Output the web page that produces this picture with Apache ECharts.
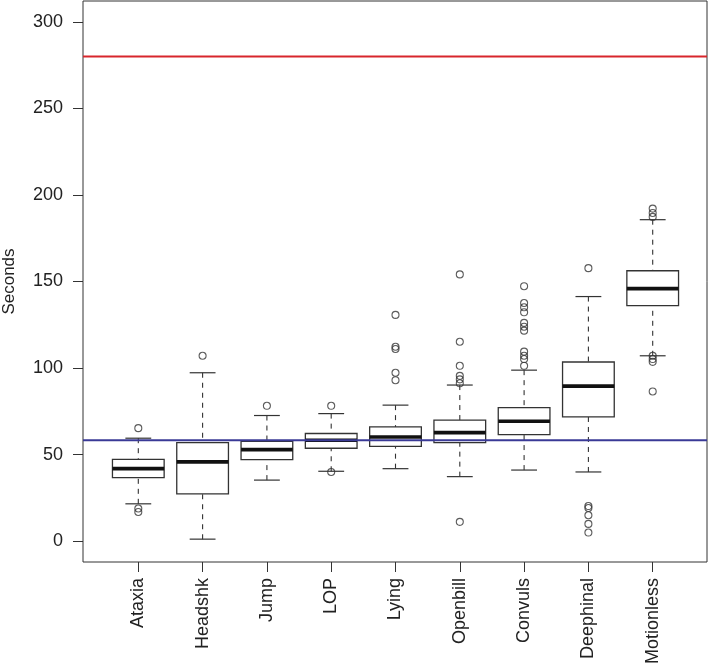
<!DOCTYPE html>
<html>
<head>
<meta charset="utf-8">
<script src="https://cdn.jsdelivr.net/npm/echarts@6/dist/echarts.min.js"></script>
<style>
  html, body { margin: 0; padding: 0; background: #fff; }
  #chart { width: 709px; height: 665px; }
</style>
</head>
<body>
<div id="chart"></div>
<script>
// ---- data ----
const categories = ['Ataxia', 'Headshk', 'Jump', 'LOP', 'Lying', 'Openbill', 'Convuls', 'Deephinal', 'Motionless'];
const whiskerLow  = [21.6, 1.2, 35.3, 40.4, 41.9, 37.3, 41.1, 40.0, 107.1];
const q1          = [36.7, 27.4, 47.1, 53.7, 54.8, 56.9, 61.6, 71.8, 136.1];
const median      = [41.9, 45.8, 52.9, 58.3, 60.2, 62.7, 69.3, 89.6, 145.9];
const q3          = [47.3, 56.9, 57.7, 62.2, 66.0, 69.9, 77.2, 103.5, 156.2];
const whiskerHigh = [59.5, 97.3, 72.6, 73.7, 78.6, 90.2, 98.8, 141.3, 185.7];
const outliers = [
  [65.3, 18.9, 16.9],
  [107.1],
  [78.2],
  [78.2, 40.0],
  [130.7, 112.3, 111.0, 97.3, 93.0],
  [154.1, 115.2, 101.3, 95.5, 93.5, 91.2, 11.2],
  [147.3, 137.6, 135.1, 132.2, 126.1, 123.9, 121.6, 109.5, 107.1, 105.2, 101.3],
  [157.7, 20.3, 19.2, 15.0, 10.0, 5.0],
  [192.1, 189.6, 187.3, 107.1, 105.2, 103.6, 86.5]
];
const refValues = [280, 58.3];
const yTicks = [0, 50, 100, 150, 200, 250, 300];
const yMin = -12, yMax = 312;

// ---- styles ----
const refColors = ['#d8262c', '#3a3a96'];
const ink = '#333';
const FONT = '"Liberation Sans", Arial, Helvetica, sans-serif';

const boxData = categories.map((c, i) => [i, whiskerLow[i], q1[i], median[i], q3[i], whiskerHigh[i]]);
const outlierData = [];
outliers.forEach((arr, i) => arr.forEach(v => outlierData.push([i, v])));
const refData = refValues.map((v, i) => [i, v]);

const chart = echarts.init(document.getElementById('chart'), null, { renderer: 'canvas' });

chart.setOption({
  animation: false,
  backgroundColor: '#fff',
  textStyle: { fontFamily: FONT },
  grid: [
    { left: 83, top: 1, width: 624, height: 561, show: true, borderColor: ink, borderWidth: 1, backgroundColor: 'transparent', containLabel: false, outerBoundsMode: 'none' },
    { left: 106.15, top: 1, width: 578.7, height: 561, show: false, containLabel: false, outerBoundsMode: 'none' }
  ],
  xAxis: [
    { gridIndex: 0, type: 'value', min: 0, max: 1, show: false },
    {
      gridIndex: 1, type: 'category', data: categories, position: 'bottom',
      axisLine: { show: false, onZero: false },
      axisTick: { show: true, alignWithLabel: true, length: 10, lineStyle: { color: ink, width: 1 } },
      axisLabel: { rotate: 90, fontSize: 18, margin: 16, color: '#222', fontFamily: FONT, interval: 0 },
      splitLine: { show: false }
    }
  ],
  yAxis: [
    {
      gridIndex: 0, type: 'value', min: yMin, max: yMax,
      name: 'Seconds', nameLocation: 'middle', nameGap: 65,
      nameTextStyle: { fontSize: 17, color: '#222', fontFamily: FONT },
      axisLine: { show: false, onZero: false },
      axisTick: { show: true, length: 10, lineStyle: { color: ink, width: 1 }, customValues: yTicks },
      axisLabel: { fontSize: 18, margin: 20, color: '#222', fontFamily: FONT, customValues: yTicks },
      splitLine: { show: false }
    },
    { gridIndex: 1, type: 'value', min: yMin, max: yMax, show: false }
  ],
  series: [
    {
      type: 'custom',
      xAxisIndex: 1, yAxisIndex: 1,
      z: 2,
      data: boxData,
      encode: { x: 0, y: [1, 2, 3, 4, 5] },
      renderItem: function (params, api) {
        const i = api.value(0);
        const cx = api.coord([i, 0])[0];
        const band = api.size([1, 0])[0];
        const bw = band * 0.804;
        const y = k => api.coord([i, api.value(k)])[1];
        const yLo = y(1), yQ1 = y(2), yMed = y(3), yQ3 = y(4), yHi = y(5);
        const thin = { stroke: ink, lineWidth: 1.2, fill: null };
        const dash = { stroke: ink, lineWidth: 1.1, lineDash: [5, 5], fill: null };
        return {
          type: 'group',
          children: [
            { type: 'line', shape: { x1: cx, y1: yHi, x2: cx, y2: yQ3 }, style: dash },
            { type: 'line', shape: { x1: cx, y1: yLo, x2: cx, y2: yQ1 }, style: dash },
            { type: 'line', shape: { x1: cx - bw / 4, y1: yHi, x2: cx + bw / 4, y2: yHi }, style: thin },
            { type: 'line', shape: { x1: cx - bw / 4, y1: yLo, x2: cx + bw / 4, y2: yLo }, style: thin },
            { type: 'rect', shape: { x: cx - bw / 2, y: yQ3, width: bw, height: yQ1 - yQ3 }, style: { stroke: ink, lineWidth: 1.3, fill: '#fff' } },
            { type: 'line', shape: { x1: cx - bw / 2, y1: yMed, x2: cx + bw / 2, y2: yMed }, style: { stroke: '#111', lineWidth: 3.6 } }
          ]
        };
      }
    },
    {
      type: 'scatter',
      xAxisIndex: 1, yAxisIndex: 1,
      z: 3,
      data: outlierData,
      symbol: 'circle',
      symbolSize: 7,
      itemStyle: { color: 'rgba(0,0,0,0)', borderColor: ink, borderWidth: 1.1 },
      silent: true
    },
    {
      type: 'custom',
      xAxisIndex: 0, yAxisIndex: 0,
      z: 5,
      data: refData,
      encode: { x: 0, y: 1 },
      renderItem: function (params, api) {
        const idx = api.value(0);
        const yy = api.coord([0, api.value(1)])[1];
        const cs = params.coordSys;
        return {
          type: 'line',
          shape: { x1: cs.x, y1: yy, x2: cs.x + cs.width, y2: yy },
          style: { stroke: refColors[idx], lineWidth: 2 }
        };
      }
    }
  ]
});
</script>
</body>
</html>
